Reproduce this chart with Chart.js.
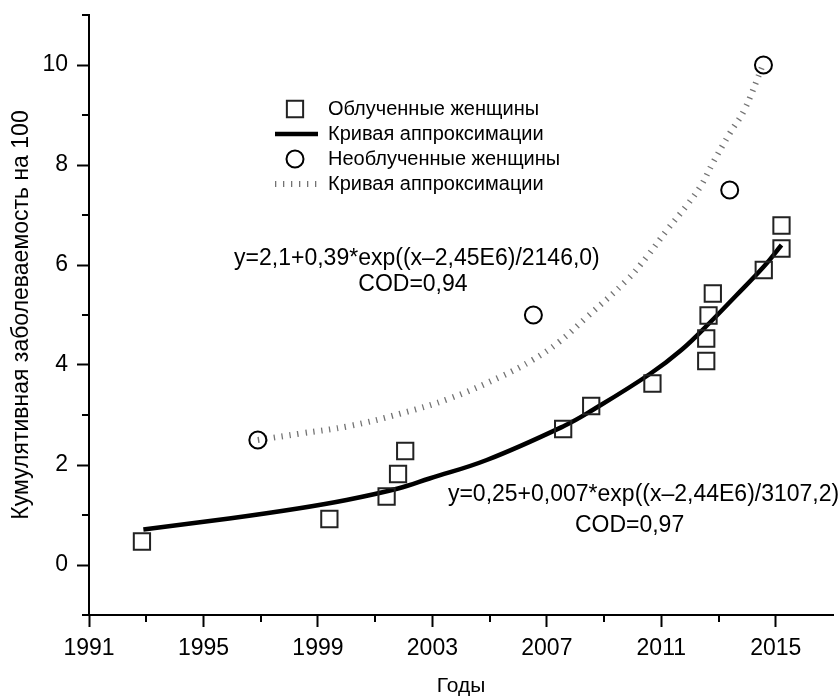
<!DOCTYPE html>
<html>
<head>
<meta charset="utf-8">
<script src="https://cdn.jsdelivr.net/npm/chart.js@4.4.1/dist/chart.umd.min.js"></script>
<style>
  body { margin: 0; background: #fff; }
  #wrap { width: 839px; height: 696px; }
</style>
</head>
<body>
<div id="wrap"><canvas id="incidence-chart"></canvas></div>
<script>
// values
let irr_years  = [1992.85, 1999.4, 2001.4, 2001.8, 2002.05, 2007.57, 2008.55, 2010.69, 2012.57, 2012.57, 2012.65, 2012.8, 2014.58, 2015.2, 2015.2];
let irr_values = [0.47, 0.92, 1.37, 1.82, 2.28, 2.72, 3.18, 3.63, 4.08, 4.53, 4.99, 5.43, 5.9, 6.33, 6.79];

let ctrl_years  = [1996.9, 2006.53, 2013.39, 2014.57];
let ctrl_values = [2.5, 5.0, 7.5, 10.0];

let fit_irr_years  = [1992.9, 1995.9, 1998.3, 2000.0, 2001.8, 2002.9, 2004.9, 2007.6, 2008.6, 2010.6, 2011.7, 2012.7, 2013.6, 2014.6, 2015.2];
let fit_irr_values = [0.71, 0.93, 1.13, 1.30, 1.53, 1.73, 2.1, 2.78, 3.1, 3.82, 4.3, 4.85, 5.38, 5.98, 6.4];

let fit_ctrl_years  = [1996.9, 1998.4, 2000.1, 2001.9, 2003.6, 2005.4, 2006.5, 2007.4, 2008.4, 2009.8, 2010.5, 2011.2, 2011.9, 2012.4, 2012.8, 2013.4, 2013.9, 2014.55];
let fit_ctrl_values = [2.5, 2.63, 2.78, 3.03, 3.33, 3.77, 4.1, 4.45, 4.96, 5.7, 6.17, 6.7, 7.2, 7.6, 8.04, 8.64, 9.1, 10.0];

let x_ticks = [1991, 1995, 1999, 2003, 2007, 2011, 2015];
let x_minor = [1993, 1997, 2001, 2005, 2009, 2013];
let y_ticks = [0, 2, 4, 6, 8, 10];
let y_minor = [-1, 1, 3, 5, 7, 9, 11];

let series_labels = ["Облученные женщины", "Кривая аппроксимации", "Необлученные женщины", "Кривая аппроксимации"];
let fit_ctrl_text = ["y=2,1+0,39*exp((x–2,45E6)/2146,0)", "COD=0,94"];
let fit_irr_text  = ["y=0,25+0,007*exp((x–2,44E6)/3107,2)", "COD=0,97"];

function pairs(xs, ys) {
  return xs.map((x, i) => ({x: x, y: ys[i]}));
}

Chart.defaults.font.family = "'Liberation Sans', Arial, sans-serif";
Chart.defaults.color = '#000';

let minorTicks = {
  id: 'minorTicks',
  afterDraw(chart) {
    let ctx = chart.ctx;
    let xs = chart.scales.x, ys = chart.scales.y;
    ctx.save();
    ctx.strokeStyle = '#000';
    ctx.lineWidth = 2;
    ctx.beginPath();
    x_minor.forEach(v => {
      let px = Math.round(xs.getPixelForValue(v));
      ctx.moveTo(px, xs.top);
      ctx.lineTo(px, xs.top + 7);
    });
    y_minor.forEach(v => {
      let py = Math.round(ys.getPixelForValue(v));
      ctx.moveTo(ys.right, py);
      ctx.lineTo(ys.right - 7, py);
    });
    ctx.stroke();
    ctx.restore();
  }
};

// equations of the fits, placed in data units
let fitLabels = {
  id: 'fitLabels',
  afterDraw(chart) {
    let ctx = chart.ctx;
    let xs = chart.scales.x, ys = chart.scales.y;
    let put = (txt, xv, yv) => ctx.fillText(txt, xs.getPixelForValue(xv), ys.getPixelForValue(yv));
    ctx.save();
    ctx.fillStyle = '#000';
    ctx.font = "23px 'Liberation Sans', Arial, sans-serif";
    ctx.textAlign = 'center';
    ctx.textBaseline = 'middle';
    put(fit_ctrl_text[0], 2002.46, 6.12);
    put(fit_ctrl_text[1], 2002.32, 5.61);
    put(fit_irr_text[0], 2010.38, 1.41);
    put(fit_irr_text[1], 2009.89, 0.79);
    ctx.restore();
  }
};

// legend block inside the plot
let insideLegend = {
  id: 'insideLegend',
  afterDraw(chart) {
    let ctx = chart.ctx;
    let sets = chart.data.datasets;
    let sx = 295, tx = 328, y0 = 109, step = 25;
    ctx.save();
    ctx.font = "20px 'Liberation Sans', Arial, sans-serif";
    ctx.textBaseline = 'middle';
    ctx.textAlign = 'left';
    sets.forEach((ds, i) => {
      let y = y0 + i * step;
      ctx.setLineDash([]);
      if (ds.showLine) {
        ctx.strokeStyle = ds.borderColor;
        ctx.lineWidth = ds.borderWidth;
        ctx.setLineDash(ds.borderDash || []);
        ctx.beginPath();
        ctx.moveTo(sx - 20, y);
        ctx.lineTo(sx + 23, y);
        ctx.stroke();
      } else {
        ctx.strokeStyle = ds.pointBorderColor;
        ctx.lineWidth = ds.pointBorderWidth;
        ctx.beginPath();
        if (ds.pointStyle === 'rect') {
          let h = ds.pointRadius * Math.SQRT1_2;
          ctx.rect(sx - h, y - h, 2 * h, 2 * h);
        } else {
          ctx.arc(sx, y, ds.pointRadius, 0, Math.PI * 2);
        }
        ctx.stroke();
      }
      ctx.setLineDash([]);
      ctx.fillStyle = '#000';
      ctx.fillText(ds.label, tx, y);
    });
    ctx.restore();
  }
};

let ctx = document.getElementById('incidence-chart').getContext('2d');
let incidenceChart = new Chart(ctx, {
  type: 'scatter',
  data: {
    datasets: [
      {
        label: series_labels[0],
        data: pairs(irr_years, irr_values),
        pointStyle: 'rect',
        pointRadius: 11.5,
        pointBorderWidth: 2,
        pointBorderColor: '#222',
        pointBackgroundColor: 'rgba(0,0,0,0)',
        showLine: false,
        order: 1
      },
      {
        label: series_labels[1],
        data: pairs(fit_irr_years, fit_irr_values),
        showLine: true,
        borderColor: '#000',
        borderWidth: 4.5,
        pointRadius: 0,
        tension: 0.4,
        order: 2
      },
      {
        label: series_labels[2],
        data: pairs(ctrl_years, ctrl_values),
        pointStyle: 'circle',
        pointRadius: 8.5,
        pointBorderWidth: 2,
        pointBorderColor: '#000',
        pointBackgroundColor: 'rgba(0,0,0,0)',
        showLine: false,
        order: 1
      },
      {
        label: series_labels[3],
        data: pairs(fit_ctrl_years, fit_ctrl_values),
        showLine: true,
        borderColor: '#737373',
        borderWidth: 6,
        borderDash: [1.3, 6.7],
        pointRadius: 0,
        tension: 0.4,
        order: 2
      }
    ]
  },
  options: {
    responsive: true,
    maintainAspectRatio: false,
    animation: false,
    layout: {
      autoPadding: false,
      padding: { left: 0, right: 6, top: 15, bottom: 0 }
    },
    plugins: {
      legend: { display: false },
      tooltip: { enabled: false }
    },
    scales: {
      x: {
        type: 'linear',
        min: 1991,
        max: 2017,
        afterBuildTicks: axis => { axis.ticks = x_ticks.map(v => ({value: v})); },
        afterFit: axis => { axis.height = 81; axis.paddingLeft = 0; axis.paddingRight = 0; },
        ticks: {
          autoSkip: false,
          maxRotation: 0,
          padding: 8,
          font: { size: 23 },
          callback: v => String(v)
        },
        grid: { drawOnChartArea: false, tickLength: 12, tickWidth: 2, tickColor: '#000' },
        border: { color: '#000', width: 2 },
        title: { display: true, text: 'Годы', font: { size: 21 }, padding: { top: 0, bottom: -3 } }
      },
      y: {
        type: 'linear',
        min: -1,
        max: 11,
        afterBuildTicks: axis => { axis.ticks = y_ticks.map(v => ({value: v})); },
        afterFit: axis => { axis.width = 89; axis.paddingTop = 0; axis.paddingBottom = 0; },
        ticks: {
          padding: 9,
          font: { size: 23 },
          callback: v => String(v)
        },
        grid: { drawOnChartArea: false, tickLength: 12, tickWidth: 2, tickColor: '#000' },
        border: { color: '#000', width: 2 },
        title: { display: true, text: 'Кумулятивная заболеваемость на 100', font: { size: 23 }, padding: { top: 8, bottom: 0 } }
      }
    }
  },
  plugins: [minorTicks, fitLabels, insideLegend]
});
</script>
</body>
</html>
